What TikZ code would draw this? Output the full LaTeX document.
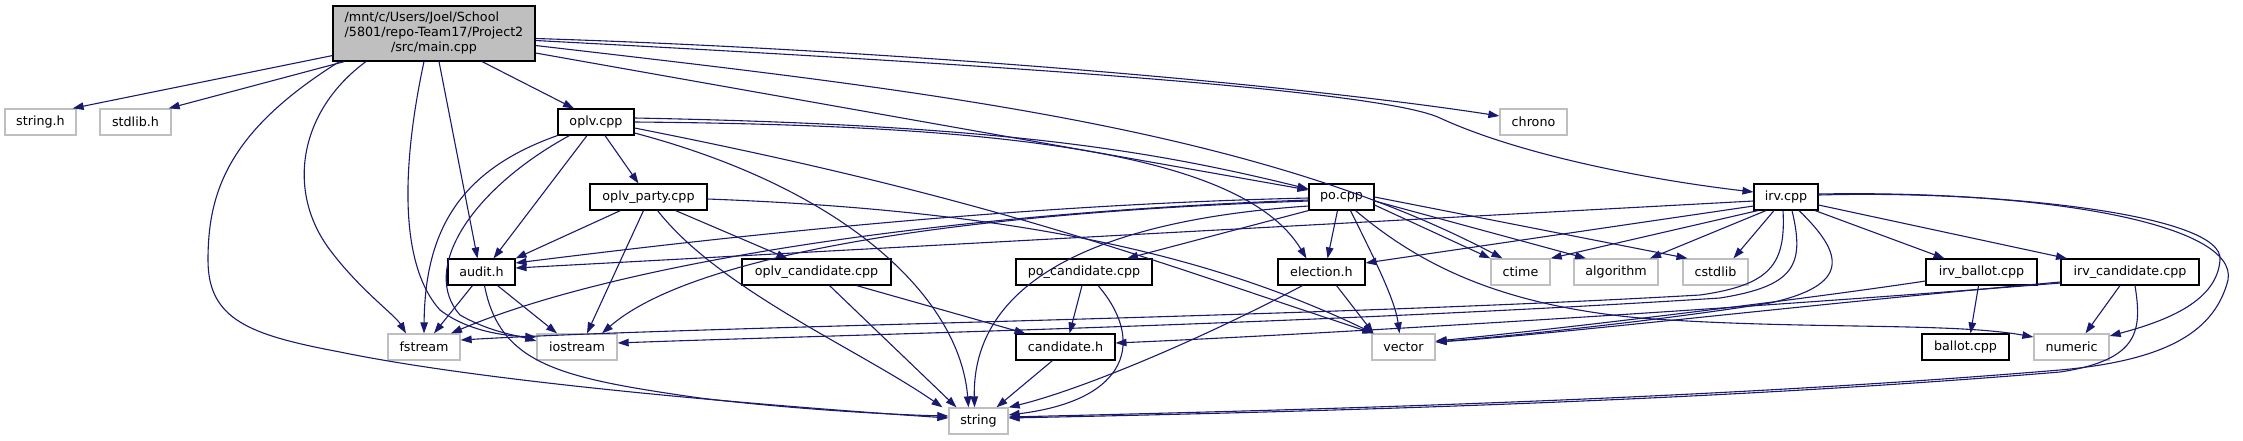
\documentclass[tikz,border=0pt]{standalone}
\usepackage{fontspec}
\setmainfont{DejaVu Sans}
\usetikzlibrary{arrows.meta}
\definecolor{edgeblue}{HTML}{191970}
\definecolor{sysgray}{HTML}{BFBFBF}

\begin{document}
\begin{tikzpicture}[x=1pt,y=-1pt,
  font=\fontsize{12.7}{15}\selectfont,
  filebox/.style={draw=black, fill=white, line width=1.1pt, inner sep=0pt, minimum height=26pt},
  sysbox/.style={draw=sysgray, fill=white, line width=1.3pt, inner sep=0pt, minimum height=26pt},
  dep/.style={draw=edgeblue, line width=1.1pt, -{Triangle[length=11pt,width=7.5pt]}}]
\useasboundingbox (0,0) rectangle (2243,440);

% files
\node[filebox, fill=sysgray, minimum width=202pt, minimum height=55pt] (main) at (434,33.5)
  {\begin{tabular}{@{}l@{}}/mnt/c/Users/Joel/School\\/5801/repo-Team17/Project2\\\multicolumn{1}{@{}c@{}}{/src/main.cpp}\end{tabular}};
\node[sysbox, minimum width=71pt] (stringh) at (40.5,122) {string.h};
\node[sysbox, minimum width=71pt] (stdlibh) at (135.5,122) {stdlib.h};
\node[filebox, minimum width=76pt] (oplv) at (596,122) {oplv.cpp};
\node[sysbox, minimum width=67pt] (chrono) at (1533.5,122) {chrono};
\node[filebox, minimum width=117pt] (oplvparty) at (648.5,197) {oplv\_party.cpp};
\node[filebox, minimum width=65pt] (po) at (1341.5,197) {po.cpp};
\node[filebox, minimum width=64pt] (irv) at (1786,197) {irv.cpp};
\node[filebox, minimum width=67pt] (audit) at (481.5,272) {audit.h};
\node[filebox, minimum width=149pt] (oplvcand) at (816.5,272) {oplv\_candidate.cpp};
\node[filebox, minimum width=136pt] (pocand) at (1084,272) {po\_candidate.cpp};
\node[filebox, minimum width=87pt] (election) at (1321.5,272) {election.h};
\node[sysbox, minimum width=59pt] (ctime) at (1520.5,272) {ctime};
\node[sysbox, minimum width=84pt] (algorithm) at (1616,272) {algorithm};
\node[sysbox, minimum width=65pt] (cstdlib) at (1715.5,272) {cstdlib};
\node[filebox, minimum width=111pt] (irvballot) at (1981.5,272) {irv\_ballot.cpp};
\node[filebox, minimum width=138pt] (irvcand) at (2130,272) {irv\_candidate.cpp};
\node[sysbox, minimum width=72pt] (fstream) at (424,347) {fstream};
\node[sysbox, minimum width=80pt] (iostream) at (577,347) {iostream};
\node[filebox, minimum width=99pt] (candidate) at (1065.5,347) {candidate.h};
\node[sysbox, minimum width=63pt] (vector) at (1403.5,347) {vector};
\node[filebox, minimum width=87pt] (ballot) at (1965.5,347) {ballot.cpp};
\node[sysbox, minimum width=75pt] (numeric) at (2071.5,347) {numeric};
\node[sysbox, minimum width=59pt] (string) at (978.5,421) {string};

% main.cpp
\draw[dep] ([yshift=6pt]main.south west) -- ([xshift=-4pt]stringh.north east);
\draw[dep] ([xshift=12pt]main.south west) -- ([xshift=-3pt]stdlibh.north east);
\draw[dep] ([xshift=7pt]main.south west) .. controls (230,130) and (208,190) .. (208,260)
  .. controls (208,320) and (250,335) .. (340,352) .. controls (500,385) and (800,408) .. ([yshift=3pt]string.west);
\draw[dep] ([xshift=-68pt]main.south) .. controls (300,110) and (285,190) .. (330,250)
  .. controls (360,290) and (395,315) .. ([xshift=-18pt]fstream.north);
\draw[dep] ([xshift=-10pt]main.south) .. controls (405,150) and (395,260) .. (440,310)
  .. controls (470,333) and (510,336) .. ([yshift=10pt]iostream.west);
\draw[dep] ([xshift=5pt]main.south) -- ([xshift=-4pt]audit.north);
\draw[dep] ([xshift=48pt]main.south) -- ([xshift=-22pt]oplv.north);
\draw[dep] ([yshift=-19.5pt]main.east) -- ([yshift=7pt]po.west);
\draw[dep] ([yshift=-12pt]main.east) .. controls (900,88) and (1250,125) .. ([xshift=-18pt]ctime.north);
\draw[dep] ([yshift=-5pt]main.east) .. controls (900,50) and (1300,85) .. ([yshift=6pt]chrono.west);
\draw[dep] ([yshift=-7pt]main.east) .. controls (1000,65) and (1380,90) .. (1440,118)
  .. controls (1520,155) and (1650,180) .. ([yshift=5pt]irv.west);

% oplv.cpp
\draw[dep] ([yshift=4pt]oplv.east) .. controls (1000,125) and (1150,150) .. ([yshift=8pt]po.west);
\draw[dep] (oplv.east) .. controls (980,125) and (1240,148) .. ([xshift=-15pt]election.north);
\draw[dep] ([yshift=-6pt]oplv.east) .. controls (1000,200) and (1150,260) .. ([xshift=-30pt]vector.north);
\draw[dep] ([yshift=-11pt]oplv.east) .. controls (850,190) and (960,300) .. ([xshift=-10pt]string.north);
\draw[dep] (oplv.south west) .. controls (460,170) and (425,230) .. (fstream.north);
\draw[dep] ([xshift=12pt]oplv.south west) .. controls (470,190) and (420,270) .. (460,315)
  .. controls (490,332) and (515,335) .. ([yshift=6pt]iostream.west);
\draw[dep] ([xshift=-9pt]oplv.south) -- ([xshift=12pt]audit.north);
\draw[dep] ([xshift=9pt]oplv.south) -- ([xshift=-10pt]oplvparty.north);

% oplv_party.cpp
\draw[dep] ([xshift=-28pt]oplvparty.south) -- (audit.north east);
\draw[dep] ([xshift=-5pt]oplvparty.south) -- ([xshift=10pt]iostream.north);
\draw[dep] ([xshift=9pt]oplvparty.south) .. controls (720,290) and (860,350) .. ([xshift=-36pt]string.north);
\draw[dep] ([xshift=27pt]oplvparty.south) -- ([xshift=-29pt]oplvcand.north);
\draw[dep] ([yshift=-2pt]oplvparty.east) .. controls (1000,210) and (1200,250) .. ([xshift=-30pt]vector.north);

% po.cpp
\draw[dep] ([yshift=-1pt]po.west) .. controls (1000,205) and (700,240) .. ([yshift=9pt]audit.east);
\draw[dep] ([yshift=-3pt]po.west) .. controls (900,215) and (600,270) .. ([xshift=27pt]fstream.north);
\draw[dep] ([yshift=-4pt]po.west) .. controls (900,215) and (680,265) .. ([xshift=25pt]iostream.north);
\draw[dep] ([yshift=-9pt]po.west) .. controls (1100,220) and (972,280) .. ([xshift=-4pt]string.north);
\draw[dep] (po.south west) -- ([xshift=43pt]pocand.north);
\draw[dep] ([xshift=-4pt]po.south) -- ([xshift=6pt]election.north);
\draw[dep] ([xshift=9pt]po.south) .. controls (1375,260) and (1395,300) .. ([xshift=-4pt]vector.north);
\draw[dep] ([yshift=-8pt]po.east) -- (ctime.north west);
\draw[dep] ([yshift=-4pt]po.east) -- ([xshift=-30pt]algorithm.north);
\draw[dep] (po.east) -- ([xshift=-28pt]cstdlib.north);
\draw[dep] ([xshift=14pt]po.south) .. controls (1420,265) and (1500,305) .. (1640,318)
  .. controls (1800,330) and (1950,322) .. ([yshift=10pt]numeric.west);

% irv.cpp
\draw[dep] ([yshift=-4pt]irv.west) -- ([yshift=4pt]audit.east);
\draw[dep] ([yshift=-9pt]irv.west) -- ([yshift=9pt]election.east);
\draw[dep] ([xshift=-28pt]irv.south) -- (ctime.north east);
\draw[dep] ([xshift=-20pt]irv.south) -- ([xshift=34pt]algorithm.north);
\draw[dep] ([xshift=-12pt]irv.south) -- ([xshift=18pt]cstdlib.north);
\draw[dep] ([xshift=29pt]irv.south) -- ([xshift=-37pt]irvballot.north);
\draw[dep] ([yshift=-8pt]irv.east) -- ([xshift=-63pt]irvcand.north);
\draw[dep] ([xshift=-3pt]irv.south) .. controls (1786,265) and (1770,285) .. (1700,295)
  .. controls (1300,318) and (700,326) .. ([yshift=7pt]fstream.east);
\draw[dep] ([xshift=6pt]irv.south) .. controls (1805,265) and (1795,286) .. (1720,298)
  .. controls (1300,325) and (800,336) .. ([yshift=4pt]iostream.east);
\draw[dep] ([xshift=13pt]irv.south) .. controls (1845,255) and (1850,285) .. (1770,303)
  .. controls (1650,322) and (1500,337) .. ([yshift=5pt]vector.east);
\draw[dep] ([yshift=2pt]irv.east) .. controls (2000,190) and (2225,215) .. (2220,260)
  .. controls (2217,300) and (2170,320) .. ([yshift=11pt]numeric.east);
\draw[dep] ([yshift=3pt]irv.east) .. controls (2050,190) and (2238,225) .. (2228,280)
  .. controls (2215,330) and (2170,360) .. (2060,370) .. controls (1700,400) and (1300,410) .. ([yshift=4pt]string.east);

% irv_ballot.cpp, irv_candidate.cpp
\draw[dep] ([yshift=-9pt]irvballot.west) .. controls (1800,300) and (1550,330) .. ([yshift=6pt]vector.east);
\draw[dep] ([xshift=-3pt]irvballot.south) -- ([xshift=5pt]ballot.north);
\draw[dep] ([yshift=-10pt]irvcand.west) .. controls (1800,305) and (1550,335) .. ([yshift=5pt]vector.east);
\draw[dep] ([yshift=-11pt]irvcand.west) .. controls (1700,312) and (1300,335) .. ([yshift=4pt]candidate.east);
\draw[dep] ([xshift=-10pt]irvcand.south) -- ([xshift=14pt]numeric.north);
\draw[dep] ([xshift=5pt]irvcand.south) .. controls (2142,330) and (2140,360) .. (2060,372)
  .. controls (1700,402) and (1300,412) .. ([yshift=3pt]string.east);

% headers
\draw[dep] ([xshift=-2pt]pocand.south) -- ([xshift=4pt]candidate.north);
\draw[dep] ([xshift=14pt]pocand.south) .. controls (1145,340) and (1130,400) .. ([yshift=6pt]string.east);
\draw[dep] ([xshift=40pt]oplvcand.south) -- ([xshift=-40pt]candidate.north);
\draw[dep] ([xshift=13pt]oplvcand.south) -- ([xshift=-22pt]string.north);
\draw[dep] ([xshift=-13pt]candidate.south) -- ([xshift=18pt]string.north);
\draw[dep] ([xshift=-19pt]election.south) .. controls (1200,340) and (1080,390) .. (string.north east);
\draw[dep] ([xshift=15pt]election.south) -- ([xshift=-30pt]vector.north);
\draw[dep] ([xshift=-9pt]audit.south) -- ([xshift=10pt]fstream.north);
\draw[dep] ([xshift=16pt]audit.south) -- ([xshift=-20pt]iostream.north);
\draw[dep] ([xshift=3pt]audit.south) .. controls (500,365) and (560,378) .. (700,398)
  .. controls (800,410) and (900,415) .. ([yshift=5pt]string.west);
\end{tikzpicture}
\end{document}
